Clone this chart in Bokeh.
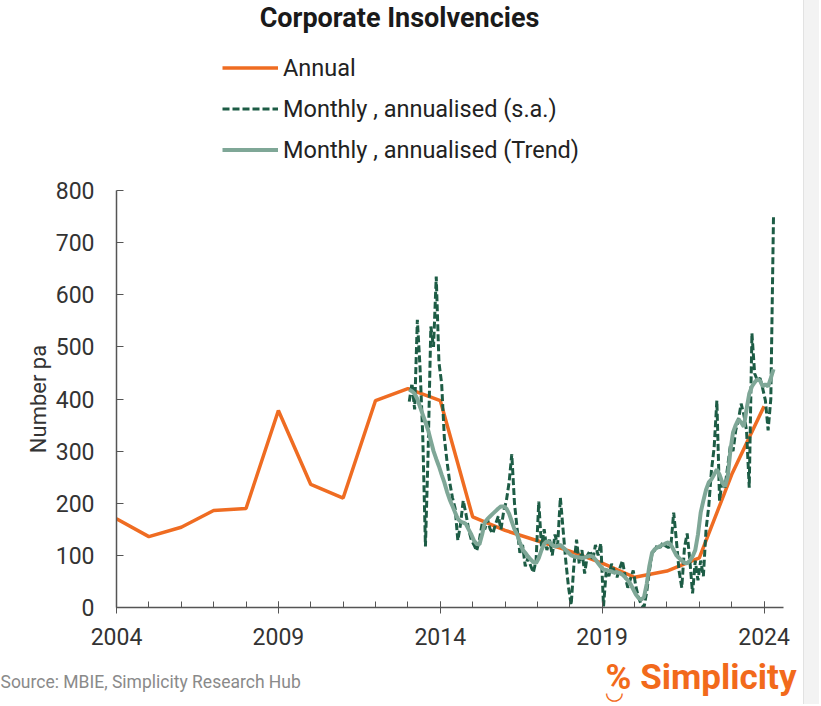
from bokeh.plotting import figure
from bokeh.models import Range1d, FixedTicker, Label, Legend, LegendItem, Spacer
from bokeh.layouts import column, row
from bokeh.embed import file_html
from bokeh.resources import INLINE

# ---------------- data ----------------
annual_years = list(range(2004, 2025))
annual_values = [170, 136, 154, 186, 190, 378, 236, 210, 397, 420, 397, 174,
                 148, 128, 108, 85, 58, 70, 95, 255, 386]

monthly_start_year = 2013
sa_2013 = [395, 430, 380, 552, 460, 330, 117, 300, 539, 500, 635, 470]
sa_2014 = [430, 326, 280, 240, 211, 190, 129, 160, 205, 180, 150, 130]
sa_2015 = [120, 109, 130, 161, 150, 169, 150, 142, 160, 175, 150, 185]
sa_2016 = [205, 240, 294, 200, 150, 105, 120, 79, 95, 80, 67, 90]
sa_2017 = [203, 117, 150, 110, 130, 100, 140, 120, 211, 150, 90, 40]
sa_2018 = [5, 80, 130, 84, 110, 65, 100, 109, 90, 120, 100, 123]
sa_2019 = [2, 71, 60, 84, 70, 58, 75, 90, 60, 38, 55, 71]
sa_2020 = [40, 19, 5, 0, 30, 70, 105, 110, 120, 115, 125, 118]
sa_2021 = [115, 120, 182, 129, 70, 38, 115, 142, 90, 27, 90, 52]
sa_2022 = [90, 60, 150, 194, 263, 307, 397, 205, 244, 230, 270, 310]
sa_2023 = [300, 340, 360, 391, 370, 340, 230, 526, 449, 436, 440, 420]
sa_2024 = [397, 340, 400, 752]

tr_2013 = [418, 415, 410, 400, 385, 370, 355, 340, 320, 300, 285, 271]
tr_2014 = [255, 240, 222, 207, 195, 182, 170, 165, 163, 160, 150, 140]
tr_2015 = [128, 122, 121, 140, 163, 170, 175, 180, 185, 190, 194, 194]
tr_2016 = [190, 180, 165, 150, 140, 125, 111, 105, 98, 92, 87, 85]
tr_2017 = [95, 110, 122, 127, 125, 120, 117, 118, 120, 115, 110, 105]
tr_2018 = [100, 98, 97, 96, 95, 96, 98, 99, 98, 92, 85, 78]
tr_2019 = [73, 72, 70, 69, 67, 68, 66, 63, 58, 52, 45, 35]
tr_2020 = [25, 18, 15, 20, 45, 80, 105, 112, 115, 118, 120, 123]
tr_2021 = [125, 120, 110, 100, 95, 90, 86, 85, 90, 98, 110, 140]
tr_2022 = [182, 205, 226, 240, 246, 255, 265, 255, 240, 232, 250, 300]
tr_2023 = [336, 350, 361, 355, 347, 380, 410, 424, 432, 438, 435, 424]
tr_2024 = [428, 424, 440, 457]

sa_values = (sa_2013 + sa_2014 + sa_2015 + sa_2016 + sa_2017 + sa_2018 +
             sa_2019 + sa_2020 + sa_2021 + sa_2022 + sa_2023 + sa_2024)
trend_values = (tr_2013 + tr_2014 + tr_2015 + tr_2016 + tr_2017 + tr_2018 +
                tr_2019 + tr_2020 + tr_2021 + tr_2022 + tr_2023 + tr_2024)
month_x = [monthly_start_year + (i + 0.5) / 12 for i in range(len(sa_values))]

x_major_ticks = [2004, 2009, 2014, 2019, 2024]
y_ticks = [0, 100, 200, 300, 400, 500, 600, 700, 800]

title_text = "Corporate Insolvencies"
series_names = ["Annual", "Monthly , annualised (s.a.)", "Monthly , annualised (Trend)"]
y_label = "Number pa"
source_text = "Source: MBIE, Simplicity Research Hub"
logo_text = "% Simplicity"
logo_smile = "\u25E1"

# ---------------- styles ----------------
FONT = "Roboto"
C_ANNUAL = "#EF6C22"
C_SA = "#1D5C45"
C_TREND = "#7FA797"
C_AXIS = "#555555"
C_TEXT = "#333333"
C_LOGO = "#F26A1B"
W = 803
HEAD_H = 170
MAIN_H = 485
FOOT_H = 49

annual_style = dict(line_color=C_ANNUAL, line_width=3.5)
sa_style = dict(line_color=C_SA, line_width=3, line_dash="7 3")
trend_style = dict(line_color=C_TREND, line_width=4)


def no_frame_align(f):
    if "frame_align" in f.properties():
        f.frame_align = False


def bare(height):
    f = figure(width=W, height=height, output_backend="svg", toolbar_location=None,
               x_range=Range1d(0, W), y_range=Range1d(0, height),
               x_axis_location=None, y_axis_location=None,
               min_border=0, min_border_left=0, min_border_right=0,
               min_border_top=0, min_border_bottom=0)
    f.outline_line_color = None
    f.xgrid.grid_line_color = None
    f.ygrid.grid_line_color = None
    f.border_fill_color = "white"
    f.background_fill_color = "white"
    no_frame_align(f)
    return f

# ---------------- header: title + legend ----------------
head = bare(HEAD_H)
# legend keys: the real series, which fall outside this panel's ranges (not visible here)
h_annual = head.line(annual_years, annual_values, **annual_style)
h_sa = head.line(month_x, sa_values, **sa_style)
h_trend = head.line(month_x, trend_values, **trend_style)
head.add_layout(Label(x=399, y=HEAD_H - 17, text=title_text,
                      text_font=FONT, text_font_size="27px", text_font_style="bold",
                      text_color="#1a1a1a", text_align="center", text_baseline="middle"))
legend = Legend(items=[LegendItem(label=series_names[0], renderers=[h_annual]),
                       LegendItem(label=series_names[1], renderers=[h_sa]),
                       LegendItem(label=series_names[2], renderers=[h_trend])],
                location=(222, HEAD_H - 163.5), orientation="vertical",
                glyph_width=56, glyph_height=27, label_height=27, spacing=13,
                label_standoff=5, padding=0, margin=0,
                label_text_font=FONT, label_text_font_size="23.5px",
                label_text_color="#222222",
                border_line_color=None, background_fill_alpha=0)
head.add_layout(legend, "center")

# ---------------- main chart ----------------
p = figure(width=W, height=MAIN_H, output_backend="svg", toolbar_location=None,
           x_range=Range1d(2004, 2024.6), y_range=Range1d(0, 800),
           min_border_left=116, min_border_right=W - 783, min_border_top=20,
           min_border_bottom=48)
p.outline_line_color = None
p.xgrid.grid_line_color = None
p.ygrid.grid_line_color = None
p.background_fill_color = "white"
p.border_fill_color = "white"
no_frame_align(p)

p.line(annual_years, annual_values, **annual_style)
p.line(month_x, sa_values, **sa_style)
p.line(month_x, trend_values, **trend_style)

xa = p.xaxis[0]
xa.ticker = FixedTicker(ticks=x_major_ticks, minor_ticks=list(range(2004, 2025)))
xa.axis_line_color = C_AXIS
xa.axis_line_width = 1.5
xa.major_tick_line_color = C_AXIS
xa.minor_tick_line_color = C_AXIS
xa.major_tick_in = 6
xa.major_tick_out = 6
xa.minor_tick_in = 6
xa.minor_tick_out = 0
xa.major_label_text_font = FONT
xa.major_label_text_font_size = "23px"
xa.major_label_text_color = C_TEXT
xa.major_label_standoff = 14

ya = p.yaxis[0]
ya.ticker = FixedTicker(ticks=y_ticks, minor_ticks=[])
ya.axis_line_color = C_AXIS
ya.axis_line_width = 1.5
ya.major_tick_line_color = C_AXIS
ya.major_tick_in = 7
ya.major_tick_out = 0
ya.minor_tick_line_color = None
ya.major_label_text_font = FONT
ya.major_label_text_font_size = "23px"
ya.major_label_text_color = C_TEXT
ya.major_label_standoff = 22
ya.axis_label = y_label
ya.axis_label_text_font = FONT
ya.axis_label_text_font_size = "22px"
ya.axis_label_text_font_style = "normal"
ya.axis_label_text_color = C_TEXT
ya.axis_label_standoff = 2

# ---------------- footer: source + logo ----------------
foot = bare(FOOT_H)
foot.add_layout(Label(x=0, y=FOOT_H - 26, text=source_text,
                      text_font=FONT, text_font_size="17.5px", text_color="#8a8a8a",
                      text_align="left", text_baseline="middle"))
foot.add_layout(Label(x=796, y=FOOT_H - 22, text=logo_text,
                      text_font=FONT, text_font_size="35px", text_font_style="bold",
                      text_color=C_LOGO, text_align="right", text_baseline="middle"))
foot.add_layout(Label(x=614, y=FOOT_H - 36, text=logo_smile,
                      text_font="DejaVu Sans", text_font_size="22px", text_font_style="bold",
                      text_color=C_LOGO, text_align="center", text_baseline="middle"))

strip = Spacer(width=16, height=HEAD_H + MAIN_H + FOOT_H,
               styles={"background-color": "#f3f3f3", "border-left": "1px solid #e2e2e2"})
layout = row(column(head, p, foot, spacing=0), strip, spacing=0)

open("out.html", "w").write(file_html(layout, INLINE))
